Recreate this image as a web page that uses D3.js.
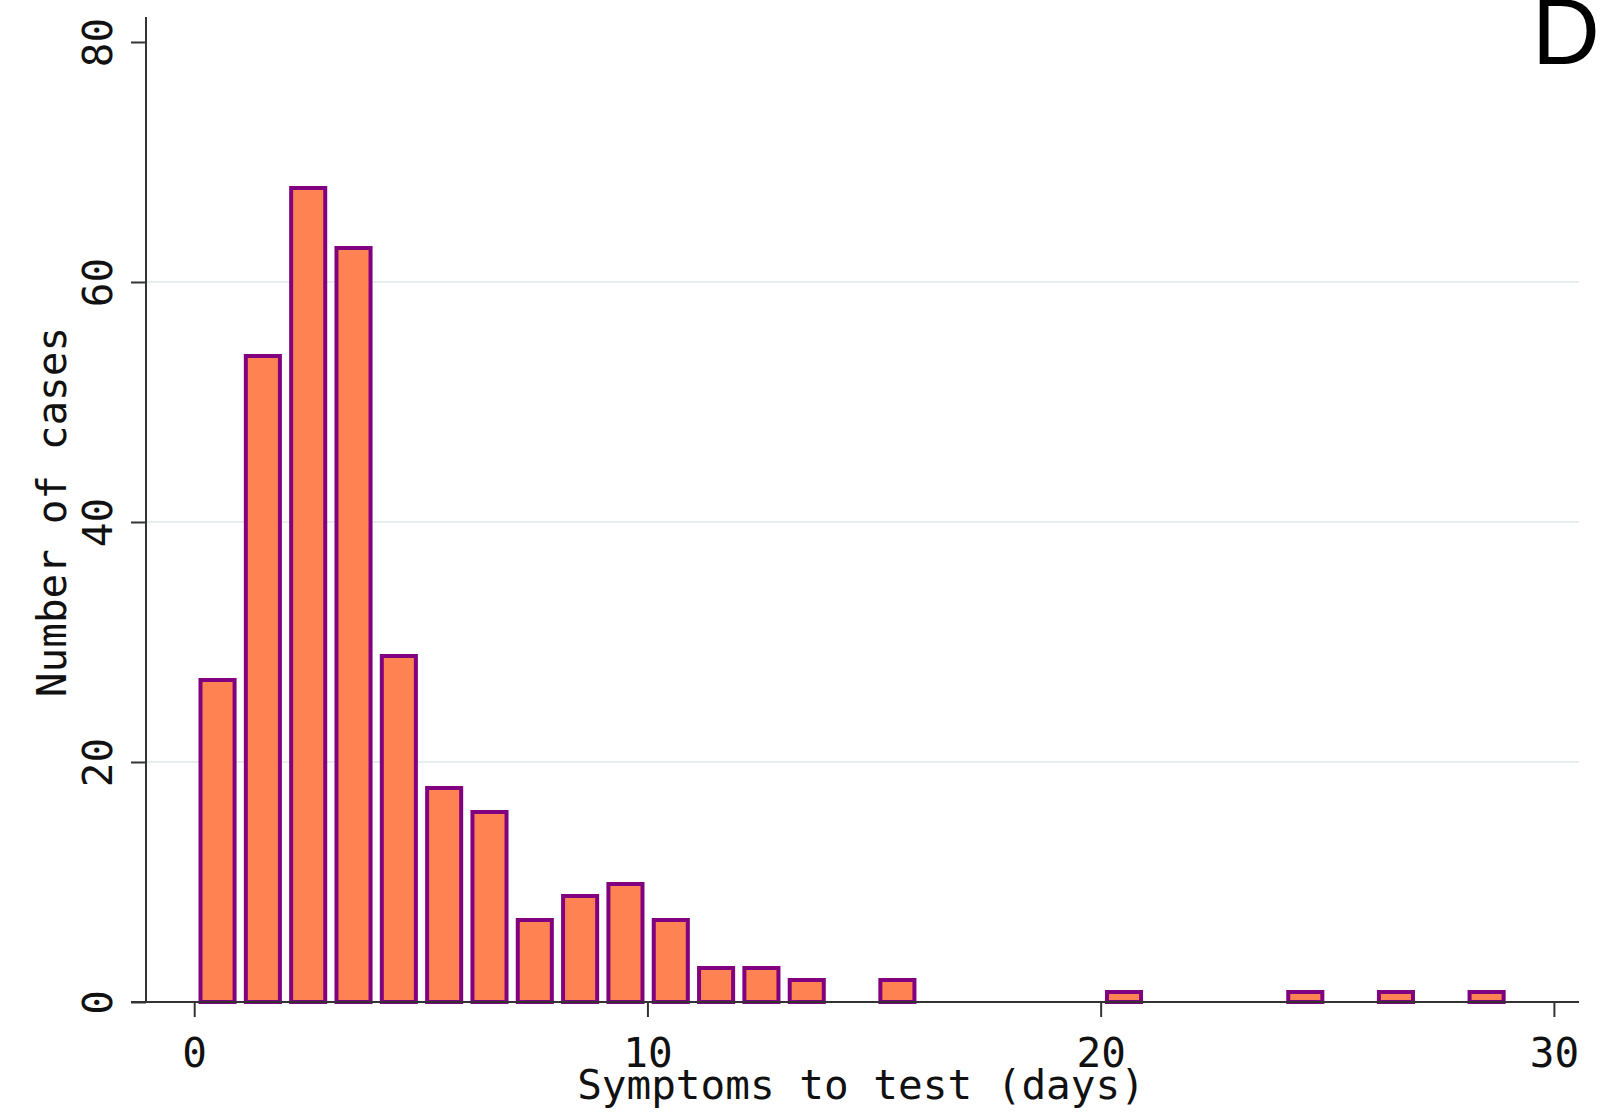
<!DOCTYPE html>
<html><head><meta charset="utf-8">
<script src="https://cdn.jsdelivr.net/npm/d3@7/dist/d3.min.js"></script>
<style>body{margin:0;background:#fff}svg{display:block}</style>
</head><body>
<script>
const days   = [0,1,2,3,4,5,6,7,8,9,10,11,12,13,14,15,16,17,18,19,20,21,22,23,24,25,26,27,28];
const counts = [27,54,68,63,29,18,16,7,9,10,7,3,3,2,0,2,0,0,0,0,1,0,0,0,1,0,1,0,1];
const xTicks = [0,10,20,30];
const yTicks = [0,20,40,60,80];
const gridTicks = [20,40,60];
const xTitle = "Symptoms to test (days)";
const yTitle = "Number of cases";
const panel = "D";

const W = 1603, H = 1117;
const svg = d3.select("body").append("svg").attr("width", W).attr("height", H);
const x = d3.scaleLinear().domain([0,30]).range([194.2,1553.9]);
const y = d3.scaleLinear().domain([0,80]).range([1002,42]);
const mono = "'DejaVu Sans Mono', monospace";
const axisColor = "#333";

// gridlines
svg.append("g").selectAll("line").data(gridTicks).join("line")
  .attr("x1",147).attr("x2",1579).attr("y1",d=>y(d)).attr("y2",d=>y(d))
  .attr("stroke","#e6efef").attr("stroke-width",2);

// bars
const sw = 4, outerW = 0.84*(x(1)-x(0));
const data = days.map((d,i)=>({d, v:counts[i]})).filter(o=>o.v>0);
svg.append("g").selectAll("rect").data(data).join("rect")
  .attr("x", o => x(o.d+0.515) - outerW/2 + sw/2)
  .attr("width", outerW - sw)
  .attr("y", o => y(o.v) + sw/2)
  .attr("height", o => y(0) - y(o.v) - sw/2)
  .attr("fill","#ff8252").attr("stroke","#800080").attr("stroke-width",sw);

// x axis
const xAxis = d3.axisBottom(x).tickValues(xTicks).tickSize(15).tickPadding(8).tickFormat(d3.format("d"));
const gx = svg.append("g").attr("transform","translate(0,1002)").call(xAxis);
gx.select(".domain").remove();
gx.append("line").attr("x1",131).attr("x2",1579).attr("y1",0).attr("y2",0).attr("stroke",axisColor).attr("stroke-width",2);
gx.selectAll(".tick line").attr("stroke",axisColor).attr("stroke-width",2);
gx.selectAll(".tick text").attr("font-family",mono).attr("font-size",41).attr("fill","#111").attr("dy",null).attr("y",null)
  .attr("transform","translate(0,65)");

// y axis
const yAxis = d3.axisLeft(y).tickValues(yTicks).tickSize(15).tickFormat(d3.format("d"));
const gy = svg.append("g").attr("transform","translate(146,0)").call(yAxis);
gy.select(".domain").remove();
gy.append("line").attr("x1",0).attr("x2",0).attr("y1",17).attr("y2",1002).attr("stroke",axisColor).attr("stroke-width",2);
gy.selectAll(".tick line").attr("stroke",axisColor).attr("stroke-width",2);
gy.selectAll(".tick text").attr("font-family",mono).attr("font-size",41).attr("fill","#111")
  .attr("x",null).attr("dy",null).attr("text-anchor","middle")
  .attr("transform","translate(-34,0) rotate(-90)");

// titles
svg.append("text").attr("x",861).attr("y",1099).attr("text-anchor","middle")
  .attr("font-family",mono).attr("font-size",41).attr("fill","#111").text(xTitle);
svg.append("text").attr("transform","translate(66,512) rotate(-90)").attr("text-anchor","middle")
  .attr("font-family",mono).attr("font-size",41).attr("fill","#111").text(yTitle);
svg.append("text").attr("x",1532).attr("y",64).attr("font-family","'Liberation Sans', Arial, sans-serif")
  .attr("font-size",94).attr("fill","#000").text(panel);
</script>
</body></html>
